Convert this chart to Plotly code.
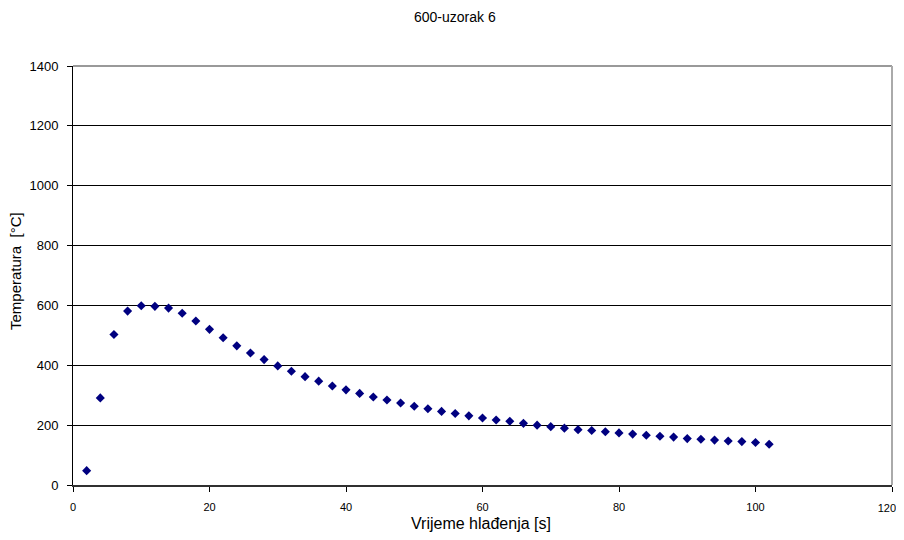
import plotly.graph_objects as go

time_s = [2, 4, 6, 8, 10, 12, 14, 16, 18, 20, 22, 24, 26, 28, 30, 32, 34, 36, 38, 40,
          42, 44, 46, 48, 50, 52, 54, 56, 58, 60, 62, 64, 66, 68, 70, 72, 74, 76, 78, 80,
          82, 84, 86, 88, 90, 92, 94, 96, 98, 100, 102]
temperature = [48, 291, 503, 581, 599, 597, 591, 574, 548, 520, 492, 465, 441, 419, 398, 380, 362, 347, 331, 318,
               306, 294, 284, 274, 263, 255, 246, 239, 231, 224, 217, 213, 206, 200, 195, 190, 185, 182, 178, 174,
               170, 166, 163, 160, 155, 153, 150, 147, 145, 142, 136]
x_ticks = [0, 20, 40, 60, 80, 100, 120]
y_ticks = [0, 200, 400, 600, 800, 1000, 1200, 1400]

title_text = "600-uzorak 6"
x_title = "Vrijeme hlađenja [s]"
y_title = "Temperatura  [°C]"

font_family = "Liberation Sans, Arial, sans-serif"
OFF = 8  # default body margin of the html page
W, H = 904 - 2 * OFF, 540 - 2 * OFF
L, T = 73 - OFF, 66 - OFF
R = W - (892 - OFF)
B = H - (485 - OFF)
ph = H - T - B
pw = W - L - R


def px_x(x):  # window pixel -> paper x
    return (x - OFF - L) / pw


def px_y(y):  # window pixel -> paper y
    return (H - B - (y - OFF)) / ph


fig = go.Figure()
fig.add_trace(go.Scatter(
    x=time_s, y=temperature, mode="markers",
    marker=dict(symbol="diamond", color="#000080", size=7, line=dict(width=0)),
    showlegend=False,
))
# same data on an overlaying x axis that only carries the last tick label,
# so that label can sit just inside the page edge
fig.add_trace(go.Scatter(
    x=time_s, y=temperature, mode="markers", xaxis="x2",
    marker=dict(opacity=0), hoverinfo="skip", showlegend=False,
))

fig.update_layout(
    width=W, height=H,
    margin=dict(l=L, r=R, t=T, b=B, autoexpand=False),
    paper_bgcolor="white", plot_bgcolor="white",
    font=dict(family=font_family, color="black"),
)
fig.add_annotation(text=title_text, xref="paper", yref="paper",
                   x=px_x(455), y=px_y(17),
                   showarrow=False, font=dict(size=14, family=font_family, color="black"),
                   xanchor="center", yanchor="middle")
fig.add_annotation(text=x_title, xref="paper", yref="paper",
                   x=px_x(481), y=px_y(523),
                   showarrow=False, font=dict(size=16, family=font_family, color="black"),
                   xanchor="center", yanchor="middle")
fig.add_annotation(text=y_title, xref="paper", yref="paper",
                   x=px_x(15), y=px_y(271), textangle=-90,
                   showarrow=False, font=dict(size=15, family=font_family, color="black"),
                   xanchor="center", yanchor="middle")

fig.update_layout(
    xaxis=dict(
        range=[0, 120], tickvals=x_ticks,
        ticktext=[str(v) for v in x_ticks[:-1]] + [""],
        ticks="outside", ticklen=5, tickcolor="black",
        showline=True, linecolor="#303030", linewidth=2, mirror=False,
        showgrid=False, zeroline=False, automargin=False,
        tickfont=dict(size=11, family=font_family),
        ticklabelstandoff=6,
    ),
    xaxis2=dict(
        range=[0, 120], overlaying="x", side="bottom", anchor="y",
        tickvals=[x_ticks[-1]], ticktext=[str(x_ticks[-1])],
        ticks="", showline=False, showgrid=False, zeroline=False, automargin=False,
        tickfont=dict(size=11, family=font_family),
        ticklabelposition="outside left", ticklabelshift=4, ticklabelstandoff=15,
    ),
    yaxis=dict(
        range=[0, 1400], tickvals=y_ticks,
        ticks="outside", ticklen=5, tickcolor="black",
        showline=True, linecolor="black", linewidth=1,
        showgrid=True, gridcolor="black", gridwidth=1, zeroline=False, automargin=False,
        tickfont=dict(size=13, family=font_family),
        ticklabelstandoff=6,
    ),
)
# gray frame on top and right
fig.add_shape(type="line", xref="paper", yref="paper", x0=0, y0=1, x1=1, y1=1,
              line=dict(color="#999999", width=2), layer="above")
fig.add_shape(type="line", xref="paper", yref="paper", x0=1, y0=0, x1=1, y1=1,
              line=dict(color="#aaaaaa", width=2), layer="above")

fig.write_html("out.html")
